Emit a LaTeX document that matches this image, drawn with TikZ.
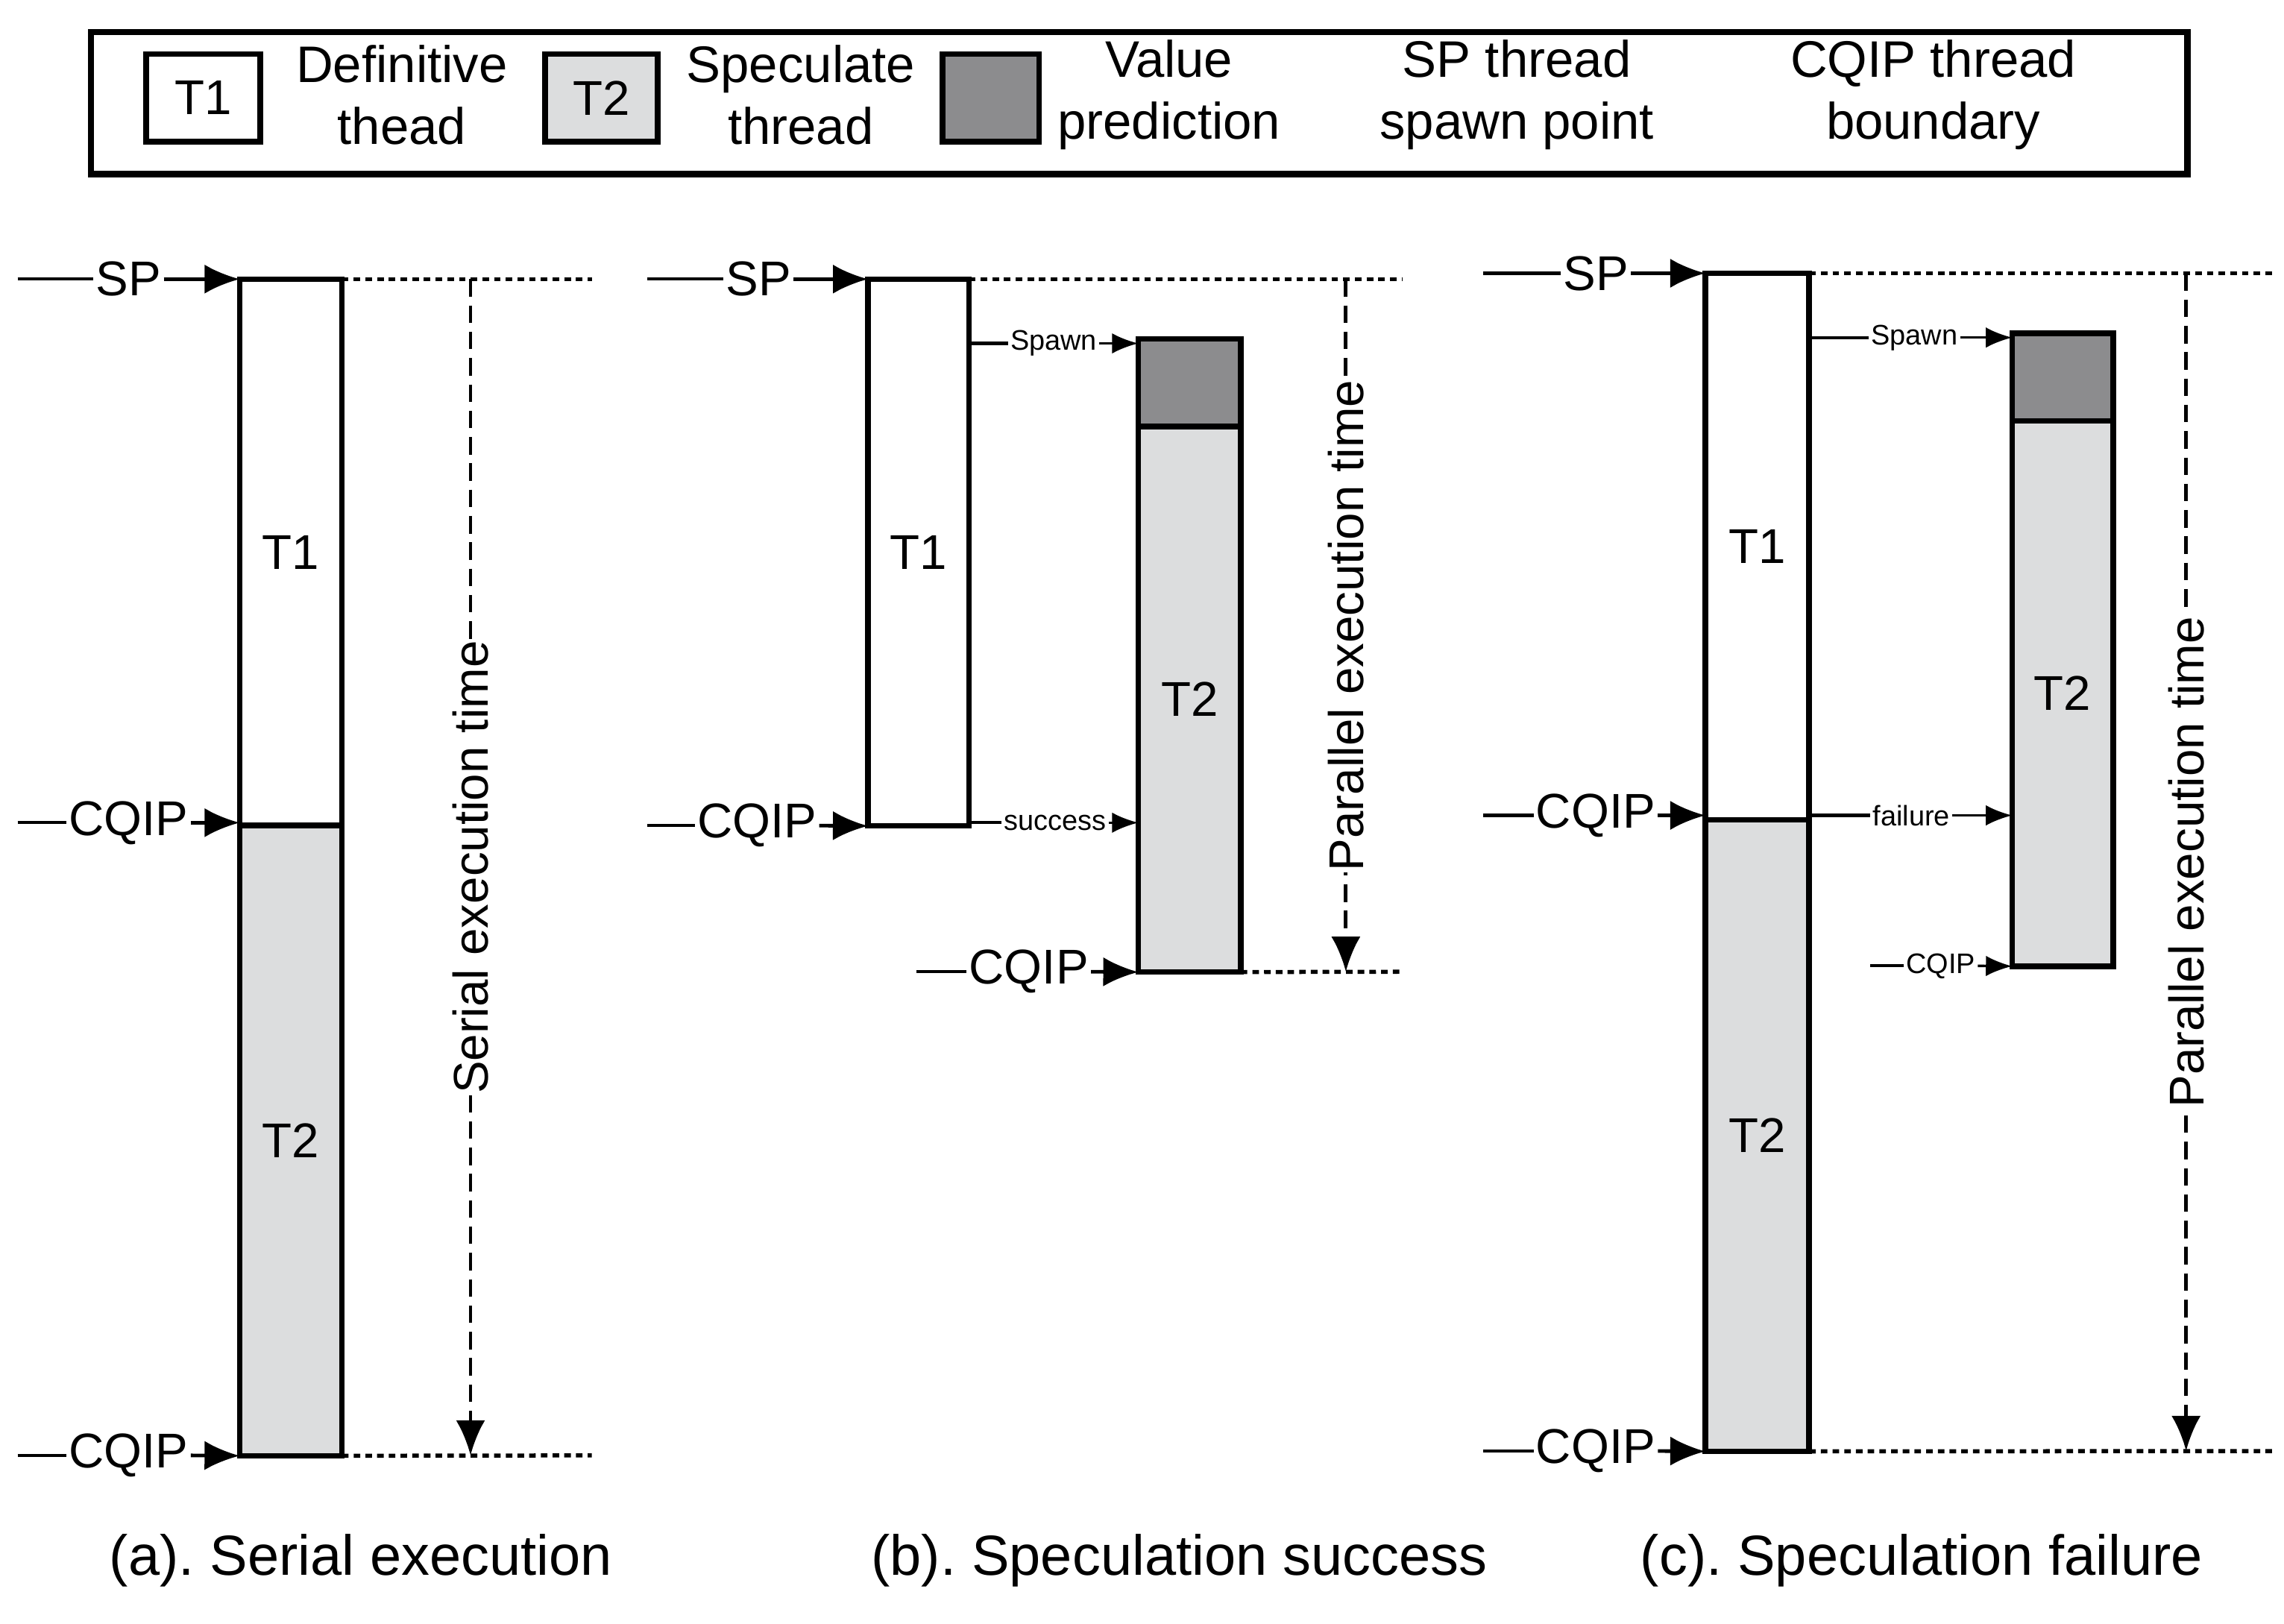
\documentclass[tikz,border=0pt]{standalone}
\usepackage{fontspec}
\setmainfont{Liberation Sans}
\usetikzlibrary{arrows.meta}
\definecolor{lg}{HTML}{DCDDDE}
\definecolor{dg}{HTML}{8C8C8E}
\begin{document}
\frenchspacing
\begin{tikzpicture}[x=0.01cm,y=-0.01cm,
 box/.style={draw,line width=1.1pt,inner sep=0pt,outer sep=0pt,anchor=north west,minimum width=0.7cm,font=\fontsize{9.5}{11}\selectfont},
 lab/.style={inner sep=0.3pt,font=\fontsize{9.5}{11}\selectfont},
 sm/.style={inner sep=0.3pt,font=\fontsize{5.5}{6}\selectfont},
 arr/.style={line width=0.7pt,-{Latex[length=2.4mm,width=2mm]}},
 sarr/.style={line width=0.5pt,-{Latex[length=1.8mm,width=1.4mm]}},
 ln/.style={line width=0.6pt},
 dot/.style={line width=0.8pt,dash pattern=on 0.45mm off 0.35mm},
 dsh/.style={line width=0.7pt,dash pattern=on 1.2mm off 0.6mm,-{Latex[length=2.4mm,width=2mm]}},
 leg/.style={lab,align=center,font=\fontsize{10}{12}\selectfont},
 captxt/.style={font=\fontsize{11}{13}\selectfont}]
\useasboundingbox (0,0) rectangle (1563,1111);
% legend
\node[draw,line width=1.2pt,minimum width=14.34cm,minimum height=0.97cm,anchor=north west,inner sep=0] (legend) at (60,20) {};
\node[box,minimum width=0.78cm,minimum height=0.6cm,fill=white] (l1) at (100,37) {T1};
\node[leg] (l1t) at (275,65) {Definitive\\thead};
\node[box,minimum width=0.77cm,minimum height=0.6cm,fill=lg] (l2) at (373,37) {T2};
\node[leg] (l2t) at (548,65) {Speculate\\thread};
\node[box,minimum width=0.66cm,minimum height=0.6cm,fill=dg] (l3) at (645,37) {};
\node[leg] (l3t) at (800,65) {Value\\prediction};
\node[leg] (l4t) at (1038,65) {SP thread\\spawn point};
\node[leg] (l5t) at (1323,65) {CQIP thread\\boundary};

% ---- panel a
\node[box,minimum height=3.74cm,fill=white] (a1) at (164,191) {T1};
\node[box,minimum height=4.31cm,fill=lg] (a2) at (164,565) {T2};
\node[lab] (aSP) at (88,191) {SP};
\node[lab] (aC1) at (88,563) {CQIP};
\node[lab] (aC2) at (88,996) {CQIP};
\coordinate (aSPs) at (12,191); \coordinate (aC1s) at (12,563); \coordinate (aC2s) at (12,996);
\draw[ln] (aSPs) -- (aSP.west); \draw[arr] (aSP.east) -- (a1.north west);
\draw[ln] (aC1s) -- (aC1.west); \draw[arr] (aC1.east) -- (a1.south west|-aC1);
\draw[ln] (aC2s) -- (aC2.west); \draw[arr] (aC2.east) -- (a2.south west);
\coordinate (ad1) at (405,191); \coordinate (ad2) at (405,996);
\draw[dot] (a1.north east) -- (ad1); \draw[dot] (a2.south east) -- (ad2);
\coordinate (at) at (322,191); \coordinate (ab) at (322,996);
\draw[dsh] (at) -- node[lab,fill=white,rotate=90,pos=0.5]{Serial execution time} (ab);
\node[captxt] (capa) at (247,1068) {(a). Serial execution};

% ---- panel b
\node[box,minimum width=0.69cm,minimum height=3.74cm,fill=white] (b1) at (594,191) {T1};
\node[box,minimum height=0.6cm,fill=dg] (bv) at (779,232) {};
\node[box,minimum height=3.73cm,fill=lg] (b2) at (779,292) {T2};
\node[lab] (bSP) at (519,191) {SP};
\node[lab] (bC1) at (518,565) {CQIP};
\node[lab] (bC2) at (704,665) {CQIP};
\coordinate (bSPs) at (443,191); \coordinate (bC1s) at (443,565); \coordinate (bC2s) at (627,665);
\draw[ln] (bSPs) -- (bSP.west); \draw[arr] (bSP.east) -- (b1.north west);
\draw[ln] (bC1s) -- (bC1.west); \draw[arr] (bC1.east) -- (b1.south west);
\draw[ln] (bC2s) -- (bC2.west); \draw[arr] (bC2.east) -- (b2.south west);
\node[sm] (bsp) at (721,235) {Spawn};
\node[sm] (bsu) at (722,563) {success};
\draw[ln] (b1.east|-bsp) -- (bsp.west); \draw[sarr] (bsp.east) -- (bv.west|-bsp);
\draw[ln] (b1.east|-bsu) -- (bsu.west); \draw[sarr] (bsu.east) -- (b2.west|-bsu);
\coordinate (bd1) at (960,191); \coordinate (bd2) at (960,665);
\draw[dot] (b1.north east) -- (bd1); \draw[dot] (b2.south east) -- (bd2);
\coordinate (bt) at (921,191); \coordinate (bb) at (921,665);
\draw[dsh] (bt) -- node[lab,fill=white,rotate=90,pos=0.5]{Parallel execution time} (bb);
\node[captxt] (capb) at (807,1068) {(b). Speculation success};

% ---- panel c
\node[box,minimum width=0.71cm,minimum height=3.74cm,fill=white] (c1) at (1167,187) {T1};
\node[box,minimum width=0.71cm,minimum height=4.32cm,fill=lg] (c2) at (1167,561) {T2};
\node[box,minimum width=0.69cm,minimum height=0.6cm,fill=dg] (cv) at (1377,228) {};
\node[box,minimum width=0.69cm,minimum height=3.73cm,fill=lg] (c3) at (1377,288) {T2};
\node[lab] (cSP) at (1092,187) {SP};
\node[lab] (cC1) at (1092,558) {CQIP};
\node[lab] (cC2) at (1092,993) {CQIP};
\coordinate (cSPs) at (1015,187); \coordinate (cC1s) at (1015,558); \coordinate (cC2s) at (1015,993);
\draw[ln] (cSPs) -- (cSP.west); \draw[arr] (cSP.east) -- (c1.north west);
\draw[ln] (cC1s) -- (cC1.west); \draw[arr] (cC1.east) -- (c1.west|-cC1);
\draw[ln] (cC2s) -- (cC2.west); \draw[arr] (cC2.east) -- (c2.south west);
\node[sm] (csp) at (1310,231) {Spawn};
\node[sm] (cfa) at (1308,558) {failure};
\node[sm] (cC3) at (1328,661) {CQIP};
\coordinate (cC3s) at (1280,661);
\draw[ln] (c1.east|-csp) -- (csp.west); \draw[sarr] (csp.east) -- (cv.west|-csp);
\draw[ln] (c1.east|-cfa) -- (cfa.west); \draw[sarr] (cfa.east) -- (c3.west|-cfa);
\draw[ln] (cC3s) -- (cC3.west); \draw[sarr] (cC3.east) -- (c3.south west);
\coordinate (cd1) at (1557,187); \coordinate (cd2) at (1557,993);
\draw[dot] (c1.north east) -- (cd1); \draw[dot] (c2.south east) -- (cd2);
\coordinate (ct) at (1496,187); \coordinate (cb) at (1496,993);
\draw[dsh] (ct) -- node[lab,fill=white,rotate=90,pos=0.5]{Parallel execution time} (cb);
\node[captxt] (capc) at (1315,1068) {(c). Speculation failure};
\end{tikzpicture}
\end{document}
